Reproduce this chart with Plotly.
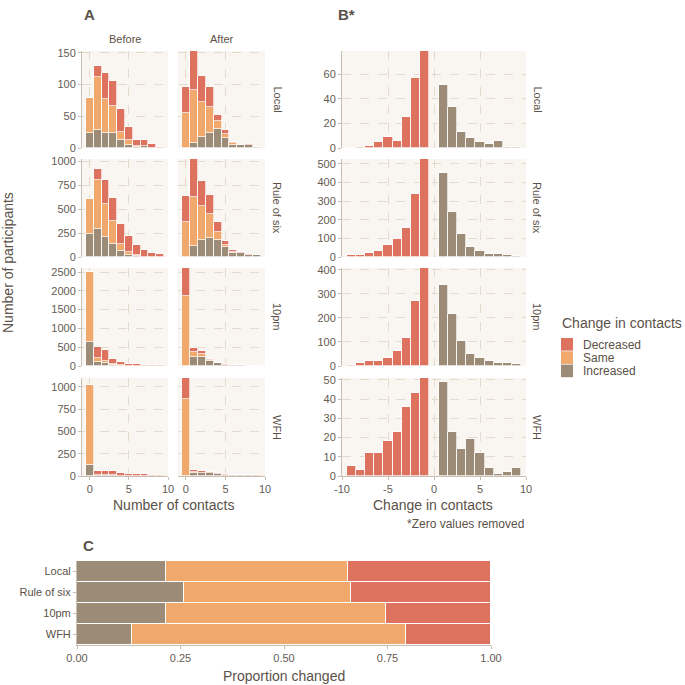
import plotly.graph_objects as go

# ---------------- data ----------------
rows = ["Local", "Rule of six", "10pm", "WFH"]
contacts = list(range(10))

before_increased = {
    "Local": [24, 29, 23, 24, 12, 4, 2, 3, 0, 0],
    "Rule of six": [240, 290, 207, 140, 67, 25, 10, 5, 4, 2],
    "10pm": [630, 116, 70, 27, 10, 5, 4, 2, 1, 1],
    "WFH": [123, 7, 6, 7, 3, 2, 2, 2, 0, 1],
}
before_same = {
    "Local": [55, 83, 54, 43, 13, 8, 1, 0, 0, 0],
    "Rule of six": [365, 515, 345, 235, 73, 28, 8, 0, 0, 0],
    "10pm": [1870, 98, 63, 17, 5, 0, 0, 0, 0, 0],
    "WFH": [896, 5, 4, 0, 0, 0, 0, 0, 0, 0],
}
before_decreased = {
    "Local": [0, 17, 41, 38, 37, 21, 9, 10, 7, 2],
    "Rule of six": [0, 115, 250, 240, 210, 165, 112, 72, 42, 30],
    "10pm": [0, 284, 294, 143, 92, 48, 40, 25, 17, 17],
    "WFH": [0, 40, 42, 45, 27, 24, 20, 20, 7, 10],
}
after_increased = {
    "Local": [0, 8, 18, 23, 30, 15, 4, 4, 5, 2],
    "Rule of six": [0, 112, 182, 204, 182, 102, 42, 42, 24, 16],
    "10pm": [0, 240, 249, 142, 80, 40, 16, 16, 9, 9],
    "WFH": [0, 37, 30, 30, 28, 16, 9, 7, 7, 4],
}
after_same = {
    "Local": [55, 83, 54, 42, 13, 7, 4, 0, 0, 0],
    "Rule of six": [361, 516, 351, 242, 78, 25, 11, 0, 0, 0],
    "10pm": [1870, 142, 71, 18, 4, 0, 0, 0, 0, 0],
    "WFH": [860, 11, 8, 5, 0, 0, 0, 0, 0, 0],
}
after_decreased = {
    "Local": [42, 62, 42, 31, 9, 7, 2, 0, 1, 0],
    "Rule of six": [278, 397, 267, 203, 108, 38, 17, 7, 4, 2],
    "10pm": [737, 107, 80, 18, 5, 4, 2, 2, 0, 0],
    "WFH": [240, 19, 14, 13, 9, 3, 2, 0, 0, 7],
}

change_negative = [-9, -8, -7, -6, -5, -4, -3, -2, -1]
change_positive = [1, 2, 3, 4, 5, 6, 7, 8, 9]
change_decreased = {
    "Local": [0, 1, 2, 5, 9, 6, 25, 57, 79],
    "Rule of six": [9, 9, 22, 32, 63, 97, 156, 335, 525],
    "10pm": [4, 12, 19, 19, 35, 62, 117, 272, 407],
    "WFH": [5, 3, 12, 12, 18, 23, 36, 43, 51],
}
change_increased = {
    "Local": [51, 33, 13, 8, 5, 3, 6, 1, 1],
    "Rule of six": [451, 241, 122, 54, 31, 14, 14, 9, 7],
    "10pm": [337, 215, 104, 51, 32, 21, 11, 11, 8],
    "WFH": [49, 23, 14, 19, 12, 4, 1, 2, 4],
}

prop_increased = [0.215, 0.258, 0.216, 0.133]
prop_same = [0.440, 0.405, 0.530, 0.662]
prop_decreased = [0.345, 0.337, 0.254, 0.205]

a_ymax = [153, 1025, 2607, 1100]
a_yticks = [[0, 50, 100, 150], [0, 250, 500, 750, 1000],
            [0, 500, 1000, 1500, 2000, 2500], [0, 250, 500, 750, 1000]]
b_ymax = [79, 525, 407, 51]
b_yticks = [[0, 20, 40, 60], [0, 100, 200, 300, 400, 500],
            [0, 100, 200, 300, 400], [0, 10, 20, 30, 40, 50]]
b_xticks = [-10, -5, 0, 5, 10]
b_xticklabels = ["-10", "-5", "0", "5", "10"]
c_xticks = [0, 0.25, 0.5, 0.75, 1.0]
c_xticklabels = ["0.00", "0.25", "0.50", "0.75", "1.00"]

# ---------------- style ----------------
COL = {"Decreased": "#DD725E", "Same": "#F0A86D", "Increased": "#9C8B76"}
FONT = "Liberation Sans, Arial, sans-serif"
TXT = "#5B5148"
TICK_TXT = "#655B53"
AXLINE = "#C9BEB2"
GRID = "#E4DACD"
BG = "#F9F6F1"
W = 685.0


def px_x(a, b):
    return [a / W, b / W]


def px_y(top, bottom):
    return [1 - bottom / W, 1 - top / W]


row_px = [(51, 148), (159, 257), (268, 366), (378, 476)]
col_before = px_x(82, 168)
col_after = px_x(178, 265)
col_b = px_x(342, 526)

fig = go.Figure()
layout_axes = {}
counter = [0]


def add_axes(xdom, ydom, xopt, yopt):
    counter[0] += 1
    n = counter[0]
    sx = "" if n == 1 else str(n)
    common = dict(showgrid=True, gridcolor=GRID, griddash="dash", gridwidth=0.8,
                  zeroline=False, automargin=False,
                  tickfont=dict(size=11, color=TICK_TXT, family=FONT),
                  ticks="outside", ticklen=3, tickcolor=AXLINE)
    xa = dict(domain=xdom, anchor="y" + sx, **common)
    ya = dict(domain=ydom, anchor="x" + sx, **common)
    xa.update(xopt)
    ya.update(yopt)
    layout_axes["xaxis" + sx] = xa
    layout_axes["yaxis" + sx] = ya
    return "x" + sx, "y" + sx


def bar(x, y, color, xr, yr):
    return go.Bar(x=x, y=y, marker=dict(color=color, line=dict(color="white", width=0.7)),
                  width=1, xaxis=xr, yaxis=yr, showlegend=False, hoverinfo="x+y")


for i, r in enumerate(rows):
    ydom = px_y(*row_px[i])
    bottom = i == 3
    for j, (xdom, inc, same, dec) in enumerate([
        (col_before, before_increased, before_same, before_decreased),
        (col_after, after_increased, after_same, after_decreased),
    ]):
        xopt = dict(range=[-1, 10], tickvals=[0, 5, 10],
                    showticklabels=bottom, ticks="outside" if bottom else "",
                    showline=bottom, linecolor=AXLINE, linewidth=1)
        yopt = dict(range=[0, a_ymax[i]], tickvals=a_yticks[i],
                    showticklabels=(j == 0), ticks="outside" if j == 0 else "",
                    showline=(j == 0), linecolor=AXLINE, linewidth=1)
        xr, yr = add_axes(xdom, ydom, xopt, yopt)
        fig.add_trace(bar(contacts, inc[r], COL["Increased"], xr, yr))
        fig.add_trace(bar(contacts, same[r], COL["Same"], xr, yr))
        fig.add_trace(bar(contacts, dec[r], COL["Decreased"], xr, yr))
    # panel B
    xopt = dict(range=[-10, 10], tickvals=b_xticks, ticktext=b_xticklabels,
                showticklabels=bottom, ticks="outside" if bottom else "",
                showline=bottom, linecolor=AXLINE, linewidth=1)
    yopt = dict(range=[0, b_ymax[i]], tickvals=b_yticks[i],
                showline=True, linecolor=AXLINE, linewidth=1)
    xr, yr = add_axes(col_b, ydom, xopt, yopt)
    fig.add_trace(bar(change_negative, change_decreased[r], COL["Decreased"], xr, yr))
    fig.add_trace(bar(change_positive, change_increased[r], COL["Increased"], xr, yr))

# panel C
xopt = dict(range=[0, 1], tickvals=c_xticks, ticktext=c_xticklabels,
            showline=True, linecolor=AXLINE, linewidth=1, showgrid=False)
yopt = dict(range=[3.5, -0.5], showline=True, linecolor=AXLINE, linewidth=1,
            showgrid=False, type="category", categoryorder="array", categoryarray=rows,
            tickfont=dict(size=11, color=TXT, family=FONT))
xr, yr = add_axes(px_x(77, 491), px_y(561, 645), xopt, yopt)
for vals, key in [(prop_increased, "Increased"), (prop_same, "Same"), (prop_decreased, "Decreased")]:
    fig.add_trace(go.Bar(x=vals, y=rows, orientation="h", width=1,
                         marker=dict(color=COL[key], line=dict(color="white", width=1.5)),
                         xaxis=xr, yaxis=yr, showlegend=False, hoverinfo="x+y"))

annotations = []


def txt(text, x, y, size=11, color=TXT, angle=0, xanchor="center", yanchor="middle", bold=False):
    annotations.append(dict(text=("<b>%s</b>" % text) if bold else text,
                            x=x / W, y=1 - y / W, xref="paper", yref="paper",
                            showarrow=False, textangle=angle, xanchor=xanchor, yanchor=yanchor,
                            font=dict(size=size, color=color, family=FONT)))


txt("A", 82, 14, size=15, bold=True, xanchor="left")
txt("B*", 336, 14, size=15, bold=True, xanchor="left")
txt("C", 81, 545, size=15, bold=True, xanchor="left")
txt("Before", 125, 39)
txt("After", 222, 39)
for i, r in enumerate(rows):
    yc = (row_px[i][0] + row_px[i][1]) / 2
    txt(r, 277, yc, angle=90)
    txt(r, 537, yc, angle=90)
txt("Number of participants", 8, 263, size=14, angle=-90)
txt("Number of contacts", 173, 505, size=14)
txt("Change in contacts", 433, 505, size=14)
txt("*Zero values removed", 526, 524, size=12, xanchor="right")
txt("Proportion changed", 284, 676, size=14)

# legend (manual)
txt("Change in contacts", 560, 323, size=14, xanchor="left")
shapes = []
for k, key in enumerate(["Decreased", "Same", "Increased"]):
    top = 338 + k * 13.3
    shapes.append(dict(type="rect", xref="paper", yref="paper",
                       x0=561 / W, x1=573 / W, y0=1 - (top + 12.6) / W, y1=1 - top / W,
                       fillcolor=COL[key], line=dict(width=0)))
    txt(key, 581, top + 6.5, size=12, xanchor="left")

fig.update_layout(
    width=685, height=685, margin=dict(l=0, r=0, t=0, b=0, autoexpand=False),
    paper_bgcolor="white", plot_bgcolor=BG, barmode="stack", bargap=0,
    showlegend=False, annotations=annotations, shapes=shapes,
    font=dict(family=FONT, color=TXT), **layout_axes,
)

fig.write_html("out.html", config={"displayModeBar": False},
               post_script="document.body.style.margin='0';document.body.style.overflow='hidden';")
